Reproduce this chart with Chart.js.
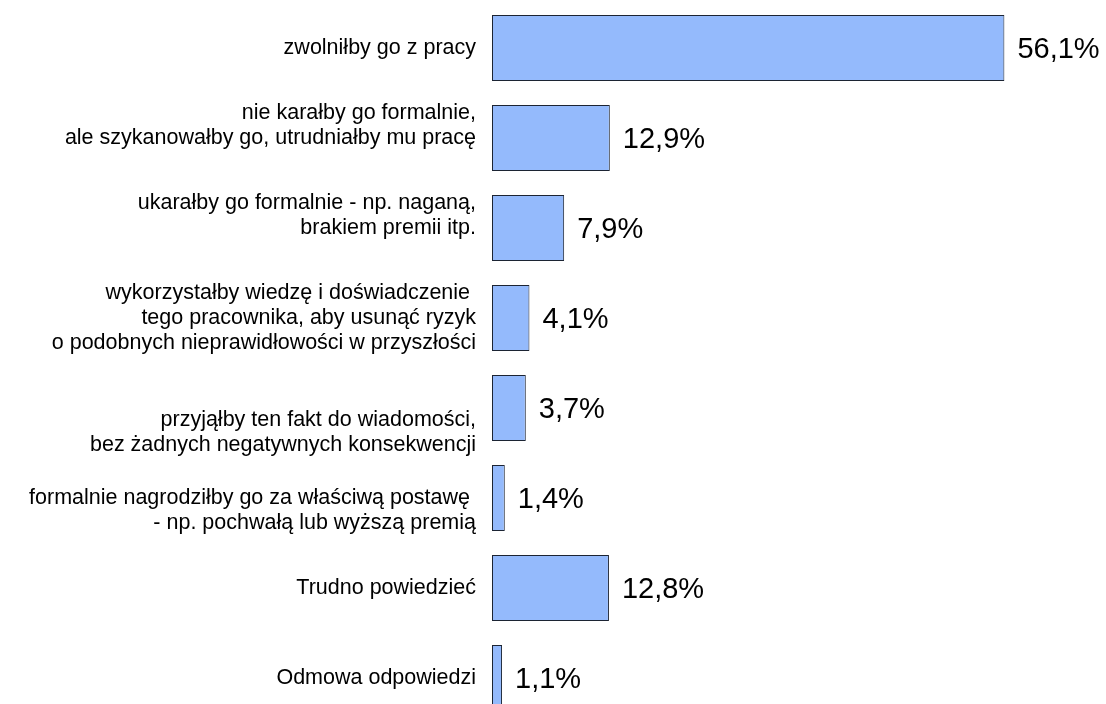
<!DOCTYPE html>
<html lang="pl">
<head>
<meta charset="utf-8">
<title>Reakcja pracodawcy</title>
<script src="https://cdn.jsdelivr.net/npm/chart.js@4.4.0/dist/chart.umd.min.js"></script>
<style>
    html, body { margin: 0; padding: 0; background: #fff; overflow: hidden; }
    .chart-wrap { position: relative; width: 1106px; height: 726px; }
</style>
</head>
<body>
<div class="chart-wrap"><canvas id="answersChart"></canvas></div>
<script>
// answer categories (multi-line labels, blank lines kept as in the original layout)
const categories = [
    'zwolniłby go z pracy',
    ['nie karałby go formalnie,', 'ale szykanowałby go, utrudniałby mu pracę', ''],
    ['ukarałby go formalnie - np. naganą,', 'brakiem premii itp.', ''],
    ['wykorzystałby wiedzę i doświadczenie ', 'tego pracownika, aby usunąć ryzyk', 'o podobnych nieprawidłowości w przyszłości'],
    ['', '', 'przyjąłby ten fakt do wiadomości,', 'bez żadnych negatywnych konsekwencji'],
    ['', 'formalnie nagrodziłby go za właściwą postawę ', '- np. pochwałą lub wyższą premią'],
    'Trudno powiedzieć',
    'Odmowa odpowiedzi'
];
const shares = [56.1, 12.9, 7.9, 4.1, 3.7, 1.4, 12.8, 1.1];
const xRange = [0, 60];

const fmtPercent = v => v.toFixed(1).replace('.', ',') + '%';

// value labels to the right of each bar
const valueLabels = {
    id: 'valueLabels',
    afterDatasetsDraw(chart) {
        const ctx = chart.ctx;
        const meta = chart.getDatasetMeta(0);
        ctx.save();
        ctx.font = '29px "Liberation Sans", Arial, sans-serif';
        ctx.fillStyle = '#000';
        ctx.textAlign = 'left';
        ctx.textBaseline = 'middle';
        meta.data.forEach((bar, i) => {
            ctx.fillText(fmtPercent(shares[i]), bar.x + 13, bar.y + 2);
        });
        ctx.restore();
    }
};

const ctx = document.getElementById('answersChart').getContext('2d');
new Chart(ctx, {
    type: 'bar',
    data: {
        labels: categories,
        datasets: [{
            data: shares,
            backgroundColor: '#94bafc',
            borderColor: '#1c2433',
            borderWidth: 1,
            borderSkipped: false,
            categoryPercentage: 1,
            barPercentage: 0.733
        }]
    },
    options: {
        indexAxis: 'y',
        responsive: true,
        maintainAspectRatio: false,
        animation: false,
        layout: {
            padding: { top: 3, bottom: 3, left: 0, right: 66 }
        },
        plugins: {
            legend: { display: false },
            tooltip: { enabled: false }
        },
        scales: {
            x: {
                display: false,
                min: xRange[0],
                max: xRange[1]
            },
            y: {
                grid: { display: false, drawTicks: false },
                border: { display: false },
                ticks: {
                    autoSkip: false,
                    color: '#000',
                    padding: 16,
                    font: {
                        family: '"Liberation Sans", Arial, sans-serif',
                        size: 21.5,
                        lineHeight: 1.163
                    }
                },
                afterFit(scale) {
                    scale.width = 492;
                    scale.paddingTop = 0;
                    scale.paddingBottom = 0;
                }
            }
        }
    },
    plugins: [valueLabels]
});
</script>
</body>
</html>
